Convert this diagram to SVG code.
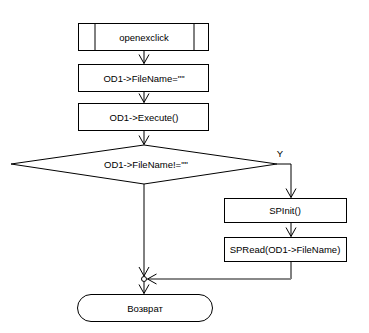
<svg xmlns="http://www.w3.org/2000/svg" width="369" height="333" viewBox="0 0 369 333">
  <style>
    .box { fill: #fff; stroke: #000; stroke-width: 1; }
    .lbl { font-family: "Liberation Sans", Arial, sans-serif; font-size: 9.5px; fill: #000; text-anchor: middle; dominant-baseline: central; }
    .ln { fill: none; stroke: #000; stroke-width: 1; }
    .gray { fill: none; stroke: #888; stroke-width: 2; }
  </style>
  <defs>
    <marker id="arr" markerUnits="userSpaceOnUse" markerWidth="14" markerHeight="14" viewBox="-7 -12 14 14" refX="0" refY="0" orient="auto-start-reverse">
      <path d="M-9,-5 L0,0 L-9,5" transform="rotate(0)" fill="none" stroke="#000" stroke-width="1"/>
    </marker>
    <marker id="v" markerUnits="userSpaceOnUse" markerWidth="20" markerHeight="20" viewBox="-10 -10 20 20" refX="0" refY="0" orient="auto">
      <path d="M-9,-5 L0,0 L-9,5" fill="none" stroke="#000" stroke-width="1"/>
    </marker>
  </defs>
  <rect width="369" height="333" fill="#fff"/>

  <g id="connectors">
    <line class="ln" x1="144" y1="50" x2="144" y2="63.5" marker-end="url(#v)"/>
    <line class="ln" x1="144" y1="91" x2="144" y2="102.5" marker-end="url(#v)"/>
    <line class="ln" x1="144" y1="130" x2="144" y2="144.5" marker-end="url(#v)"/>
    <polyline class="ln" points="277,164 291,164 291,197.5" marker-end="url(#v)"/>
    <text class="lbl" x="280" y="153">Y</text>
    <line class="ln" x1="291" y1="222" x2="291" y2="236.5" marker-end="url(#v)"/>
    <polyline class="ln" points="291,261 291,279"/>
    <line class="gray" x1="291" y1="279" x2="147.5" y2="279" marker-end="url(#v)"/>
    <line class="ln" x1="144" y1="184" x2="144" y2="276" marker-end="url(#v)"/>
    <line class="ln" x1="144" y1="282" x2="144" y2="293.5" marker-end="url(#v)"/>
    <circle cx="144" cy="279" r="2.5" fill="#fff" stroke="#000" stroke-width="1"/>
  </g>

  <g id="start">
    <rect class="box" x="78.5" y="23.5" width="130" height="27"/>
    <line class="ln" x1="95" y1="23.5" x2="95" y2="50.5"/>
    <line class="ln" x1="194" y1="23.5" x2="194" y2="50.5"/>
    <text class="lbl" x="144" y="37">openexclick</text>
  </g>

  <g id="assign">
    <rect class="box" x="78.5" y="64.5" width="130" height="27"/>
    <text class="lbl" x="144" y="78">OD1-&gt;FileName=""</text>
  </g>

  <g id="execute">
    <rect class="box" x="78.5" y="103.5" width="130" height="27"/>
    <text class="lbl" x="144" y="117">OD1-&gt;Execute()</text>
  </g>

  <g id="check">
    <polygon class="box" points="11,164 144,145 277,164 144,184"/>
    <text class="lbl" x="146" y="164">OD1-&gt;FileName!=""</text>
  </g>

  <g id="spinit">
    <rect class="box" x="224.5" y="198.5" width="122" height="24"/>
    <text class="lbl" x="285" y="210.5">SPInit()</text>
  </g>

  <g id="spread">
    <rect class="box" x="224.5" y="237.5" width="122" height="24"/>
    <text class="lbl" x="285" y="249.5">SPRead(OD1-&gt;FileName)</text>
  </g>

  <g id="end">
    <rect class="box" x="77.5" y="294.5" width="135" height="27" rx="13.5" ry="13.5"/>
    <text class="lbl" x="145" y="308">Возврат</text>
  </g>
</svg>
